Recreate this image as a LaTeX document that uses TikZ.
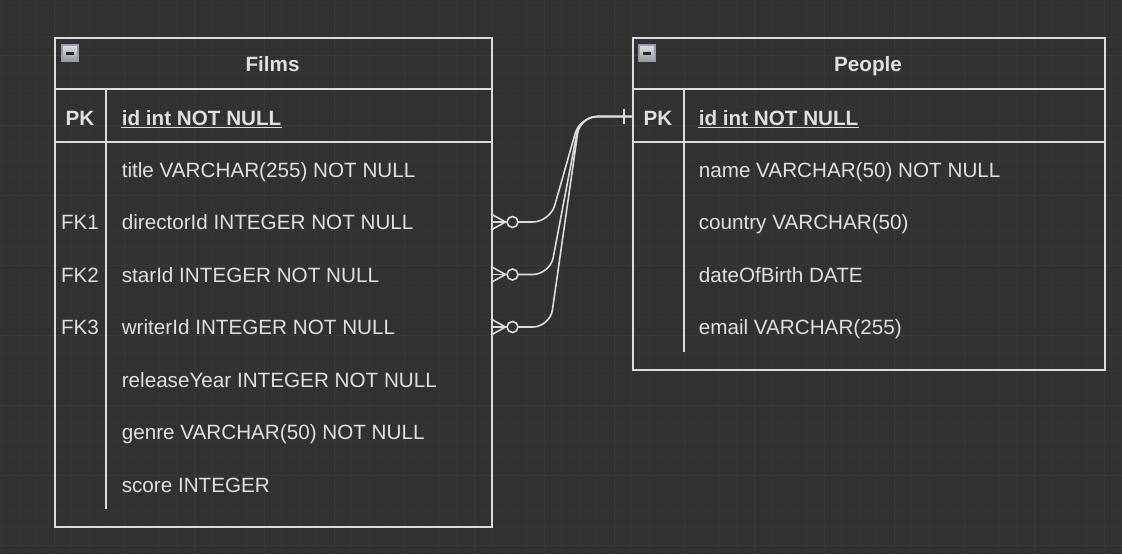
\documentclass[tikz,border=0pt]{standalone}
\usepackage{fontspec}
\setmainfont{Liberation Sans}
\usetikzlibrary{calc}
\definecolor{canvas}{RGB}{50,49,47}
\definecolor{gridminor}{RGB}{53,52,50}
\definecolor{gridmajor}{RGB}{58,57,55}
\definecolor{ink}{RGB}{220,220,220}
\definecolor{txt}{RGB}{224,224,224}
\definecolor{iconedge}{RGB}{150,156,178}
\begin{document}
\begin{tikzpicture}[x=0.75pt, y=-0.75pt, line width=1.2pt,
	tbl/.style={draw=ink, anchor=north west, inner sep=0pt},
	tblname/.style={text=txt, anchor=base, inner sep=0pt, font=\fontsize{15.5}{18}\selectfont\bfseries},
	key/.style={text=txt, anchor=base, inner sep=0pt, font=\fontsize{15.5}{18}\selectfont},
	field/.style={text=txt, anchor=base west, inner sep=0pt, font=\fontsize{15.5}{18}\selectfont},
	wire/.style={draw=ink, rounded corners=13pt}]
			% canvas with grid
			\fill[canvas] (0,0) rectangle (1122,554);
			\useasboundingbox (0,0) rectangle (1122,554);
			\foreach \x in {1.5,19,...,1122}{
				\draw[gridminor, line width=0.6pt] (\x,0)--(\x,554);
			}
			\foreach \y in {2.5,20,...,554}{
				\draw[gridminor, line width=0.6pt] (0,\y)--(1122,\y);
			}
			\foreach \x in {54,124,...,1122}{
				\draw[gridmajor, line width=0.6pt] (\x,0)--(\x,554);
			}
			\foreach \y in {55,125,...,554}{
				\draw[gridmajor, line width=0.6pt] (0,\y)--(1122,\y);
			}
			
			% tables
			\node[tbl, minimum width=327.75pt, minimum height=366.75pt] (films) at (54,37) {};
			\draw[ink] (54,89)--(491,89);
			\draw[ink] (54,142)--(491,142);
			\draw[ink] (106,89)--(106,509);
			\node[tbl, minimum width=354pt, minimum height=249pt] (people) at (632,37) {};
			\draw[ink] (632,89)--(1104,89);
			\draw[ink] (632,142)--(1104,142);
			\draw[ink] (684,89)--(684,352);
			
			\foreach \x in {62, 639}{
				\shade[top color=black!12, bottom color=black!40] (\x,45) rectangle ++(16,16);
				\draw[iconedge, line width=0.8pt] (\x,45) rectangle ++(16,16);
				\fill[black!85] (\x+4,51.5) rectangle ++(8,3);
			}
			
			\node[tblname] (filmsName) at (272.5,71.5){Films};
			\node[tblname] (peopleName) at (868,71.5){People};
			
			\node[key, font=\fontsize{15.5}{18}\selectfont\bfseries] (filmsPK) at (80,125){PK};
			\node[field, font=\fontsize{15.5}{18}\selectfont\bfseries] (filmsId) at (121,125){id int NOT NULL};
			\draw[ink] ([yshift=-2pt]filmsId.base west)--([yshift=-2pt]filmsId.base east);
			\node[key, font=\fontsize{15.5}{18}\selectfont\bfseries] (peoplePK) at (658,125){PK};
			\node[field, font=\fontsize{15.5}{18}\selectfont\bfseries] (peopleId) at (698,125){id int NOT NULL};
			\draw[ink] ([yshift=-2pt]peopleId.base west)--([yshift=-2pt]peopleId.base east);
			
			\foreach \k/\t [count=\i] in {{}/title VARCHAR(255) NOT NULL, FK1/directorId INTEGER NOT NULL, FK2/starId INTEGER NOT NULL, FK3/writerId INTEGER NOT NULL, {}/releaseYear INTEGER NOT NULL, {}/genre VARCHAR(50) NOT NULL, {}/score INTEGER}{
				\node[key] (filmKey\i) at (80, {124.5+52.5*\i}){\k};
				\node[field] (film\i) at (121, {124.5+52.5*\i}){\t};
			}
			
			\foreach \t [count=\i] in {name VARCHAR(50) NOT NULL, country VARCHAR(50), dateOfBirth DATE, email VARCHAR(255)}{
				\node[field] (person\i) at (698, {124.5+52.5*\i}){\t};
			}
			
			% relations
			\coordinate (pkEnd) at (632,116.5);
			\draw[ink] (624,109)--(624,124);
			\foreach \i/\y in {1/222, 2/274.5, 3/327}{
				\coordinate (fk\i) at (491,\y);
				\draw[ink] ($(fk\i)+(0,-8)$)--($(fk\i)+(14.5,0)$)--($(fk\i)+(0,8)$);
				\draw[ink] (fk\i)--++(15.5,0);
				\draw[ink] ($(fk\i)+(21.5,0)$) circle[radius=5.5];
				\draw[wire] ($(fk\i)+(27,0)$)--(550,\y)--(580,116.5)--(pkEnd);
			}
		\end{tikzpicture}
\end{document}
